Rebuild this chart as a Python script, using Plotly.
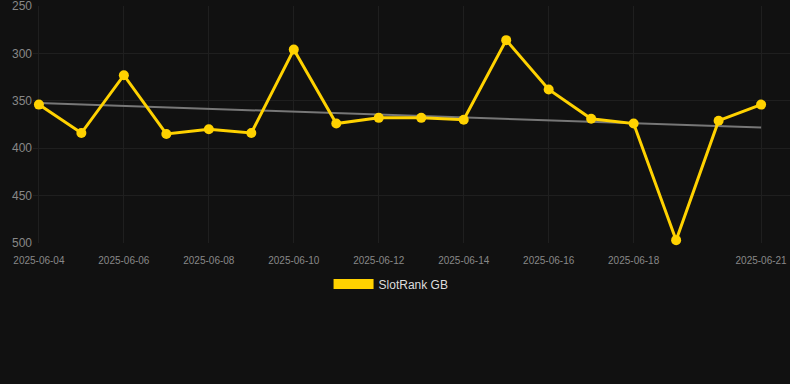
import plotly.graph_objects as go
import numpy as np
import pandas as pd

dates = pd.date_range("2025-06-04", "2025-06-21", freq="D").strftime("%Y-%m-%d").tolist()
ranks = [354, 384, 323, 385, 380, 384, 296, 374, 368, 368, 370, 286, 338, 369, 374, 497, 371, 354]
tick_dates = ["2025-06-04", "2025-06-06", "2025-06-08", "2025-06-10", "2025-06-12",
              "2025-06-14", "2025-06-16", "2025-06-18", "2025-06-21"]
y_ticks = [250, 300, 350, 400, 450, 500]

idx = np.arange(len(ranks))
slope, intercept = np.polyfit(idx, ranks, 1)
trend = (slope * idx + intercept).tolist()

gold = "#FFD200"
fig = go.Figure()
fig.add_trace(go.Scatter(x=dates, y=trend, mode="lines",
                         line=dict(color="#777777", width=2), showlegend=False, hoverinfo="skip"))
fig.add_trace(go.Scatter(x=dates, y=ranks, mode="lines+markers", cliponaxis=False,
                         line=dict(color=gold, width=3), marker=dict(color=gold, size=10),
                         showlegend=False))
fig.add_trace(go.Scatter(x=[None], y=[None], mode="lines", name="SlotRank GB",
                         line=dict(color=gold, width=11)))

fig.update_layout(
    width=790, height=384,
    paper_bgcolor="#111111", plot_bgcolor="#111111",
    margin=dict(l=33, r=0, t=6, b=141),
    font=dict(family="Liberation Sans, Arial, sans-serif", color="#888888"),
    xaxis=dict(
        type="date",
        range=["2025-06-03 20:40", "2025-06-21 16:20"],
        tickvals=tick_dates, ticktext=tick_dates,
        tickfont=dict(size=10, color="#888888"),
        showgrid=True, gridcolor="#1f1f1f", gridwidth=1,
        zeroline=False, showline=False, ticks="", ticklen=0,
        ticklabelstandoff=10, ticklabeloverflow="allow",
    ),
    yaxis=dict(
        range=[500, 250], tickvals=y_ticks,
        tickfont=dict(size=12, color="#888888"),
        showgrid=True, gridcolor="#1f1f1f", gridwidth=1,
        zeroline=False, showline=False, ticks="",
        ticklabeloverflow="allow",
    ),
    legend=dict(orientation="h", x=0.473, xanchor="center", y=-0.173, yanchor="middle",
                font=dict(size=12, color="#dddddd"), bgcolor="rgba(0,0,0,0)", itemwidth=40),
    showlegend=True,
)
fig.write_html("out.html", config={"displayModeBar": False},
               post_script="document.body.style.margin='0';document.body.style.background='#111111';")
